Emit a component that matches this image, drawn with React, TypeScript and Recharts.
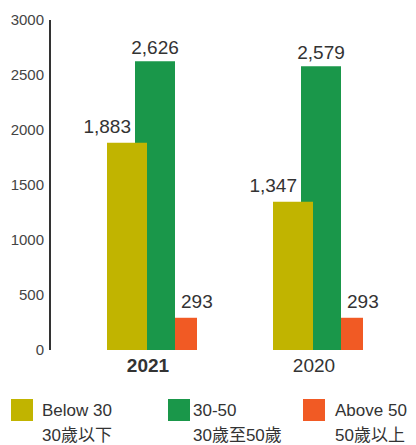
import React from 'react';
import { BarChart, Bar, XAxis, YAxis, LabelList } from 'recharts';

const years = ['2021', '2020'];
const below30 = [1883, 1347];
const age30to50 = [2626, 2579];
const above50 = [293, 293];
const yTicks = [0, 500, 1000, 1500, 2000, 2500, 3000];

const seriesNames = ['Below 30', '30-50', 'Above 50'];
const seriesNamesZh = ['30歲以下', '30歲至50歲', '50歲以上'];
const seriesColors = ['#c1b400', '#1a974a', '#f15a24'];

const data = years.map((year, i) => ({
  year,
  below30: below30[i],
  mid: age30to50[i],
  above50: above50[i],
}));

const FONT = '"Liberation Sans", Arial, "Noto Sans CJK TC", sans-serif';
const TEXT = '#333';

const fmt = (v: number) => v.toLocaleString('en-US');

// labels sit slightly off-centre like the original
const YoungLabel = (p: any) => (
  <text x={p.x + 24} y={p.y - 10} textAnchor="end" fontSize={19} fill={TEXT} fontFamily={FONT}>
    {fmt(p.value)}
  </text>
);
const MidLabel = (p: any) => (
  <text x={p.x + p.width / 2} y={p.y - 7} textAnchor="middle" fontSize={19} fill={TEXT} fontFamily={FONT}>
    {fmt(p.value)}
  </text>
);
const OldLabel = (p: any) => (
  <text x={p.x + 6} y={p.y - 10} textAnchor="start" fontSize={19} fill={TEXT} fontFamily={FONT}>
    {fmt(p.value)}
  </text>
);

const YearTick = (p: any) => (
  <text
    x={p.x}
    y={p.y}
    dy={14}
    textAnchor="middle"
    fontSize={19}
    fill={TEXT}
    fontFamily={FONT}
    fontWeight={p.payload.value === years[0] ? 700 : 400}
  >
    {p.payload.value}
  </text>
);

function Legend() {
  const boxX = [11, 168, 303];
  const textX = [42, 193, 335];
  return (
    <>
      {seriesNames.map((name, i) => (
        <React.Fragment key={name}>
          <div style={{ position: 'absolute', left: boxX[i], top: 399, width: 22, height: 22, background: seriesColors[i] }} />
          <div
            style={{
              position: 'absolute',
              left: textX[i],
              top: 398,
              fontSize: 17,
              lineHeight: '25px',
              color: TEXT,
              fontFamily: FONT,
              whiteSpace: 'nowrap',
            }}
          >
            <div>{name}</div>
            <div>{seriesNamesZh[i]}</div>
          </div>
        </React.Fragment>
      ))}
    </>
  );
}

export default function App() {
  return (
    <div style={{ position: 'absolute', left: 0, top: 0, width: 416, height: 445, background: '#fff', fontFamily: FONT }}>
      <BarChart width={416} height={380} data={data} margin={{ top: 20, right: 0, bottom: 0, left: 0 }}>
        <XAxis
          xAxisId="main"
          dataKey="year"
          axisLine={false}
          tickLine={false}
          padding={{ left: 15, right: 19 }}
          height={30}
          interval={0}
          tick={YearTick}
        />
        <XAxis xAxisId="old" dataKey="year" hide padding={{ left: 53, right: -19 }} />
        <XAxis xAxisId="mid" dataKey="year" hide padding={{ left: 22, right: 12 }} />
        <XAxis xAxisId="young" dataKey="year" hide padding={{ left: -6, right: 40 }} />
        <YAxis
          width={50}
          domain={[0, 3000]}
          ticks={yTicks}
          interval={0}
          tickLine={false}
          tickSize={0}
          tickMargin={6}
          axisLine={{ stroke: '#333', strokeWidth: 2 }}
          tick={{ fontSize: 15, fill: '#444', fontFamily: FONT }}
        />
        <Bar xAxisId="old" dataKey="above50" name={seriesNames[2]} fill={seriesColors[2]} barSize={22} isAnimationActive={false}>
          <LabelList dataKey="above50" content={OldLabel} />
        </Bar>
        <Bar xAxisId="mid" dataKey="mid" name={seriesNames[1]} fill={seriesColors[1]} barSize={40} isAnimationActive={false}>
          <LabelList dataKey="mid" content={MidLabel} />
        </Bar>
        <Bar xAxisId="young" dataKey="below30" name={seriesNames[0]} fill={seriesColors[0]} barSize={40} isAnimationActive={false}>
          <LabelList dataKey="below30" content={YoungLabel} />
        </Bar>
      </BarChart>
      <Legend />
    </div>
  );
}
